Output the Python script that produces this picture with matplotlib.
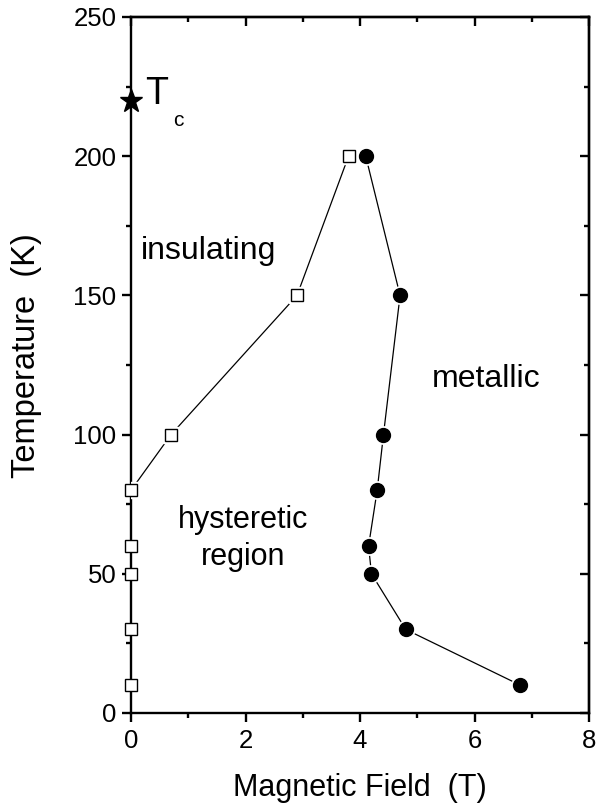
import matplotlib
matplotlib.use("Agg")
import matplotlib.pyplot as plt
from matplotlib.ticker import MultipleLocator

plt.rcParams['font.family'] = ['Liberation Sans', 'DejaVu Sans']

# Insulating -> hysteretic boundary (open squares)
ins_field = [0.0, 0.0, 0.0, 0.0, 0.0, 0.70, 2.90, 3.80]
ins_temp = [10, 30, 50, 60, 80, 100, 150, 200]

# Hysteretic -> metallic boundary (filled circles)
met_field = [4.10, 4.70, 4.41, 4.30, 4.15, 4.20, 4.80, 6.80]
met_temp = [200, 150, 100, 80, 60, 50, 30, 10]

# Curie temperature marker
tc_field = [0.0]
tc_temp = [220]

fig = plt.figure(figsize=(6.08, 8.08), dpi=100)
ax = fig.add_axes([131 / 608, 1 - 713 / 808, 458 / 608, 696 / 808])

# connecting lines (only the part above the axis for the squares)
ax.plot(ins_field[4:], ins_temp[4:], color='black', lw=0.9, zorder=2)
ax.plot(met_field, met_temp, color='black', lw=0.9, zorder=2)

# white halos so the lines stop short of the symbols
ax.plot(ins_field[4:], ins_temp[4:], ls='none', marker='s', ms=11,
        mfc='white', mec='white', zorder=3)
ax.plot(met_field, met_temp, ls='none', marker='o', ms=12.5,
        mfc='white', mec='white', zorder=3)

ax.plot(ins_field, ins_temp, ls='none', marker='s', ms=8,
        mfc='white', mec='black', mew=1.0, zorder=4, clip_on=False)
ax.plot(met_field, met_temp, ls='none', marker='o', ms=10,
        mfc='black', mec='black', zorder=4, clip_on=False)
ax.plot(tc_field, tc_temp, ls='none', marker='*', ms=17,
        mfc='black', mec='black', zorder=5, clip_on=False)

ax.set_xlim(0, 8)
ax.set_ylim(0, 250)
ax.xaxis.set_major_locator(MultipleLocator(2))
ax.xaxis.set_minor_locator(MultipleLocator(1))
ax.yaxis.set_major_locator(MultipleLocator(50))
ax.yaxis.set_minor_locator(MultipleLocator(25))

for s in ax.spines.values():
    s.set_linewidth(1.7)

ax.tick_params(which='both', direction='out', width=1.7,
               labelsize=18.5, top=False, right=False)
ax.tick_params(which='major', length=6.5)
ax.tick_params(which='minor', length=3.5)
ax.tick_params(axis='x', which='major', pad=5)
ax.tick_params(axis='y', which='major', pad=4)

# inward ticks on the top and right frame
axt = ax.secondary_xaxis('top')
axt.xaxis.set_major_locator(MultipleLocator(2))
axt.xaxis.set_minor_locator(MultipleLocator(1))
axt.tick_params(which='both', direction='in', width=1.7, labeltop=False)
axt.tick_params(which='major', length=6.5)
axt.tick_params(which='minor', length=3.5)
axt.spines['top'].set_linewidth(1.7)
axr = ax.secondary_yaxis('right')
axr.yaxis.set_major_locator(MultipleLocator(50))
axr.yaxis.set_minor_locator(MultipleLocator(25))
axr.tick_params(which='both', direction='in', width=1.7, labelright=False)
axr.tick_params(which='major', length=6.5)
axr.tick_params(which='minor', length=3.5)
axr.spines['right'].set_linewidth(1.7)

ax.set_xlabel('Magnetic Field  (T)', fontsize=22)
ax.set_ylabel('Temperature  (K)', fontsize=23.5)
ax.xaxis.set_label_coords(0.5, -0.086)
ax.yaxis.set_label_coords(-0.194, 0.514)

# region labels
ax.text(1.36, 163, 'insulating', fontsize=23, ha='center', va='baseline')
ax.text(6.2, 117, 'metallic', fontsize=23, ha='center', va='baseline')
ax.text(1.95, 66.5, 'hysteretic', fontsize=22, ha='center', va='baseline')
ax.text(1.95, 53, 'region', fontsize=22, ha='center', va='baseline')

# T_c label
ax.text(0.445, 218.7, 'T', fontsize=27, ha='center', va='baseline')
ax.text(0.82, 211, 'c', fontsize=15, ha='center', va='baseline')

fig.savefig('out.png', dpi=100)
